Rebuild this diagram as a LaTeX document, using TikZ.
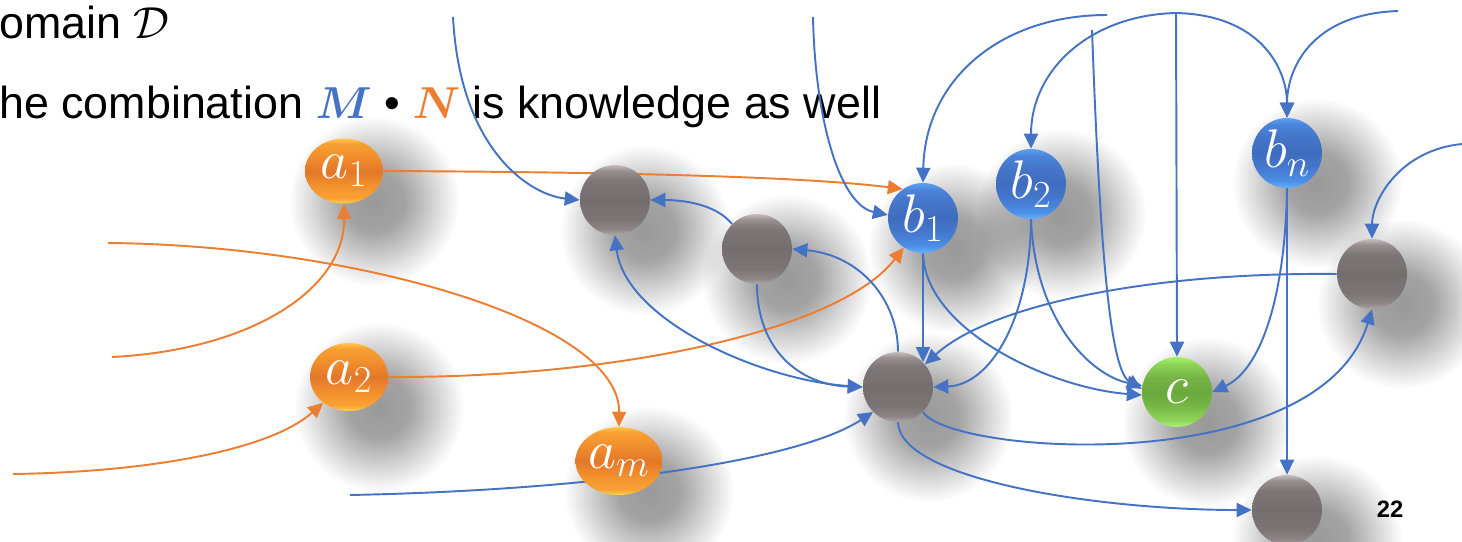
\documentclass[tikz,border=0pt]{standalone}
\usepackage{fix-cm}
\usepackage{fontspec}
\setmainfont{Liberation Sans}
\usepackage{bm}
\usepackage{graphicx}
\usetikzlibrary{arrows.meta,shapes.geometric,fadings}
\definecolor{lblue}{HTML}{4472C4}
\definecolor{lorange}{HTML}{ED7D31}
\pgfdeclareverticalshading{grayshade}{100bp}{color(0bp)=(rgb,255:red,176;green,166;blue,166); color(25bp)=(rgb,255:red,176;green,166;blue,166); color(29bp)=(rgb,255:red,142;green,134;blue,134); color(36bp)=(rgb,255:red,124;green,117;blue,117); color(50bp)=(rgb,255:red,116;green,110;blue,110); color(64bp)=(rgb,255:red,125;green,118;blue,118); color(71bp)=(rgb,255:red,152;green,144;blue,144); color(75bp)=(rgb,255:red,198;green,189;blue,189); color(100bp)=(rgb,255:red,198;green,189;blue,189)}
\pgfdeclareverticalshading{blueshade}{100bp}{color(0bp)=(rgb,255:red,98;green,176;blue,255); color(25bp)=(rgb,255:red,98;green,176;blue,255); color(30bp)=(rgb,255:red,76;green,143;blue,232); color(40bp)=(rgb,255:red,68;green,120;blue,204); color(50bp)=(rgb,255:red,63;green,108;blue,191); color(62bp)=(rgb,255:red,69;green,118;blue,202); color(70bp)=(rgb,255:red,74;green,132;blue,218); color(75bp)=(rgb,255:red,90;green,160;blue,240); color(100bp)=(rgb,255:red,90;green,160;blue,240)}
\pgfdeclareverticalshading{orangeshade}{100bp}{color(0bp)=(rgb,255:red,255;green,212;blue,71); color(25bp)=(rgb,255:red,255;green,212;blue,71); color(29bp)=(rgb,255:red,251;green,162;blue,52); color(40bp)=(rgb,255:red,242;green,142;blue,45); color(50bp)=(rgb,255:red,226;green,119;blue,42); color(60bp)=(rgb,255:red,241;green,140;blue,44); color(71bp)=(rgb,255:red,247;green,160;blue,50); color(75bp)=(rgb,255:red,255;green,200;blue,74); color(100bp)=(rgb,255:red,255;green,200;blue,74)}
\pgfdeclareverticalshading{greenshade}{100bp}{color(0bp)=(rgb,255:red,169;green,244;blue,122); color(25bp)=(rgb,255:red,169;green,244;blue,122); color(30bp)=(rgb,255:red,143;green,212;blue,90); color(42bp)=(rgb,255:red,114;green,179;blue,67); color(50bp)=(rgb,255:red,106;green,169;blue,61); color(60bp)=(rgb,255:red,116;green,180;blue,70); color(70bp)=(rgb,255:red,142;green,213;blue,86); color(75bp)=(rgb,255:red,166;green,240;blue,106); color(100bp)=(rgb,255:red,166;green,240;blue,106)}
\pgfdeclarelayer{shadow}
\pgfdeclarelayer{lines}
\pgfsetlayers{shadow,lines,main}
\pgfdeclareradialshading{shadowshade}{\pgfpointorigin}{color(0bp)=(pgftransparent!0); color(9bp)=(pgftransparent!10); color(17bp)=(pgftransparent!55); color(25bp)=(pgftransparent!100); color(50bp)=(pgftransparent!100)}
\pgfdeclarefading{shadowfade}{\pgfuseshading{shadowshade}}
\tikzset{
  ball/.style={circle, minimum size=1.4cm, inner sep=0pt, text=white, font=\fontsize{31}{31}\selectfont},
  grayball/.style={ball, shading=grayshade},
  blueball/.style={ball, shading=blueshade},
  greenball/.style={ball, shading=greenshade},
  orangeball/.style={ellipse, minimum width=1.56cm, minimum height=1.36cm, inner sep=0pt, text=white,
    font=\fontsize{31}{31}\selectfont, shading=orangeshade},
  bconn/.style={draw=lblue, line width=1.1pt, ->},
  oconn/.style={draw=lorange, line width=1.1pt, ->},
  shadowdisc/.style={fill=black, fill opacity=0.4, path fading=shadowfade},
  bodytext/.style={anchor=base west, inner sep=0pt, font=\fontsize{25.5}{30}\selectfont}
}
\begin{document}
\begin{tikzpicture}[x=0.02cm,y=-0.02cm,>={Triangle[length=8.5pt,width=8pt]}]
\useasboundingbox (0,0) rectangle (1462,541);

% nodes
\node[grayball] (g1) at (615,200) {};
\node[grayball] (g2) at (757,249) {};
\node[blueball] (b1) at (923,218) {$b_1$};
\node[blueball] (b2) at (1031,184) {$b_2$};
\node[blueball] (bn) at (1287,153) {$b_n$};
\node[grayball] (g3) at (1372,274) {};
\node[greenball] (c) at (1177,392) {$c$};
\node[grayball] (g4) at (1287,510) {};
\node[grayball] (gc) at (898,387) {};
\node[orangeball, minimum height=1.3cm] (a1) at (344,171) {$a_1$};
\node[orangeball] (a2) at (349,377) {$a_2$};
\node[orangeball] (am) at (619,461) {$a_m$};

% free ends
\coordinate (o1) at (108,243);
\coordinate (o2) at (112,357);
\coordinate (o3) at (13,474);
\coordinate (s1) at (453,17);
\coordinate (s2) at (813,17);
\coordinate (s3) at (1107,15);
\coordinate (s4) at (1176,13);
\coordinate (s5) at (1398,11);
\coordinate (s6) at (1092,30);
\coordinate (s7) at (1462,144);
\coordinate (s8) at (350,495);

\begin{pgfonlayer}{shadow}
  \foreach \n in {g1,g2,b1,b2,bn,g3,c,g4,gc,a1,a2,am}
    \path[shadowdisc] ([shift={(30,30)}]\n.center) circle[radius=1.7cm];
  \node[bodytext] (t1) at (-1,38) {omain $\mathcal{D}$};
  \node[bodytext] (t2) at (-1,118) {he combination \textcolor{lblue}{$\bm{M}$} • \textcolor{lorange}{$\bm{N}$} is knowledge as well};
  \node[font=\bfseries\fontsize{13.5}{14}\selectfont, inner sep=0pt] (pg) at (1390,509) {22};
\end{pgfonlayer}

\begin{pgfonlayer}{lines}
  % orange
  \draw[oconn] (a1.east) .. controls (600,172) and (800,176) .. (b1.125);
  \draw[oconn] (o2) .. controls (250,350) and (345,290) .. (a1.south);
  \draw[oconn] (o3) .. controls (150,472) and (270,450) .. (a2.225);
  \draw[oconn] (o1) .. controls (350,245) and (620,320) .. (am.north);
  \draw[oconn] (a2.east) .. controls (620,378) and (840,330) .. (b1.237);
  % blue from free ends
  \draw[bconn] (s1) .. controls (460,150) and (530,195) .. (g1.west);
  \draw[bconn] (s2) .. controls (815,120) and (840,205) .. (b1.175);
  \draw[bconn] (s3) .. controls (1000,15) and (925,80) .. (b1.north);
  \draw[bconn] (s4) .. controls (1090,15) and (1031,70) .. (b2.north);
  \draw[bconn] (s4) -- (c.north);
  \draw[bconn] (s4) .. controls (1262,15) and (1287,70) .. (bn.north);
  \draw[bconn] (s5) .. controls (1310,14) and (1287,70) .. (bn.north);
  \draw[bconn] (s6) .. controls (1100,250) and (1110,370) .. (c.175);
  \draw[bconn] (s7) .. controls (1400,150) and (1372,200) .. (g3.north);
  \draw[bconn] (s8) .. controls (600,490) and (800,460) .. (gc.225);
  % blue between nodes
  \draw[bconn] (bn.south) -- (g4.north);
  \draw[bconn] (bn.south) .. controls (1285,300) and (1260,370) .. (c.east);
  \draw[bconn] (b2.south) .. controls (1035,320) and (1090,375) .. (c.170);
  \draw[bconn] (b2.south) .. controls (1030,320) and (990,385) .. (gc.east);
  \draw[bconn] (b1.south) .. controls (925,330) and (1050,388) .. (c.185);
  \draw[bconn] (b1.south) -- (gc.45);
  \draw[bconn] (g3.west) .. controls (1150,272) and (990,305) .. (gc.40);
  \draw[bconn] (gc.-45) .. controls (950,455) and (1320,480) .. (g3.south);
  \draw[bconn] (gc.south) .. controls (900,480) and (1100,510) .. (g4.west);
  \draw[bconn] (g2.south) .. controls (757,350) and (800,385) .. (gc.west);
  \draw[bconn,<->] (g1.south) .. controls (625,320) and (760,380) .. (gc.west);
  \draw[bconn] (gc.north) .. controls (898,300) and (860,255) .. (g2.east);
  \draw[bconn] (g2.135) .. controls (715,203) and (680,200) .. (g1.east);
\end{pgfonlayer}
\end{tikzpicture}
\end{document}
